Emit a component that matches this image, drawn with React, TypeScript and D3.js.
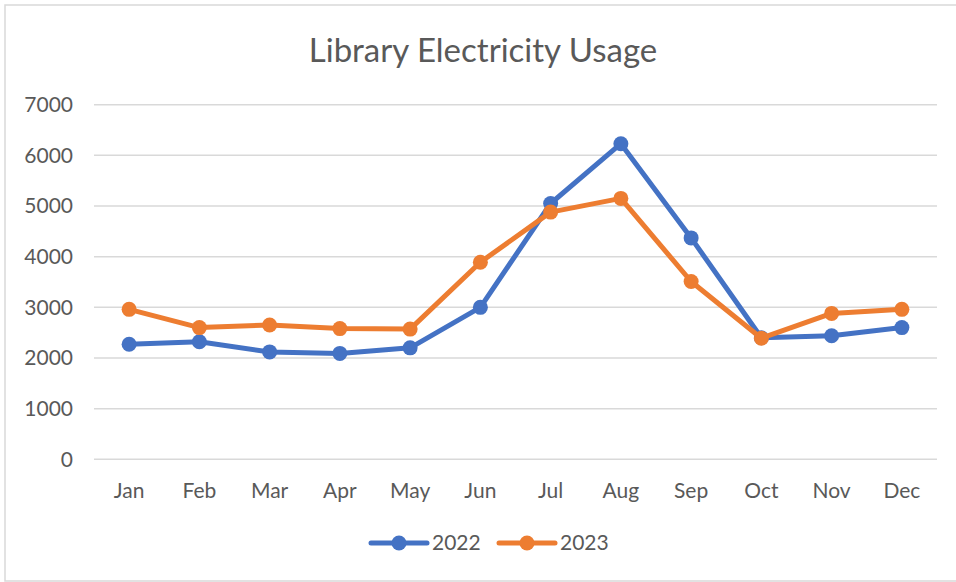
import React from 'react';
import * as d3 from 'd3';

const months = ['Jan', 'Feb', 'Mar', 'Apr', 'May', 'Jun', 'Jul', 'Aug', 'Sep', 'Oct', 'Nov', 'Dec'];
const usage2022 = [2270, 2320, 2120, 2090, 2200, 3000, 5050, 6230, 4370, 2400, 2440, 2600];
const usage2023 = [2960, 2600, 2650, 2580, 2570, 3890, 4880, 5150, 3510, 2390, 2880, 2960];
const yTicks = [0, 1000, 2000, 3000, 4000, 5000, 6000, 7000];

const series = [
  { name: '2022', values: usage2022, color: '#4472C4' },
  { name: '2023', values: usage2023, color: '#ED7D31' },
];

const width = 956;
const height = 582;
const font = 'Lato, "Open Sans", sans-serif';
const textColor = '#595959';
const labelSize = 21;

export default function App() {
  const x = d3.scaleBand<string>().domain(months).range([94, 937]);
  const y = d3.scaleLinear().domain([0, 7000]).range([459.3, 104.7]);
  const cx = (i: number) => (x(months[i]) ?? 0) + x.bandwidth() / 2;

  const line = d3.line<number>()
    .x((_, i) => cx(i))
    .y((d) => y(d));

  return (
    <svg
      width={width}
      height={height}
      style={{ position: 'absolute', left: 0, top: 0, background: '#fff' }}
    >
      {/* chart border */}
      <rect x={5} y={5} width={960} height={576} fill="#fff" stroke="#D9D9D9" strokeWidth={1.5} />

      <text x={483} y={62} textAnchor="middle" fontFamily={font} fontSize={33} fill={textColor}>
        Library Electricity Usage
      </text>

      {/* gridlines + y labels */}
      {yTicks.map((t) => (
        <g key={t}>
          <line x1={94} x2={937} y1={y(t)} y2={y(t)} stroke="#D9D9D9" strokeWidth={1.5} />
          <text x={73} y={y(t)} dy="0.35em" textAnchor="end" fontFamily={font} fontSize={labelSize} fill={textColor}>
            {t}
          </text>
        </g>
      ))}

      {/* x labels */}
      {months.map((m, i) => (
        <text
          key={m}
          x={cx(i)}
          y={491}
          dy="0.35em"
          textAnchor="middle"
          fontFamily={font}
          fontSize={labelSize}
          fill={textColor}
        >
          {m}
        </text>
      ))}

      {/* series */}
      {series.map((s) => (
        <g key={s.name}>
          <path d={line(s.values) ?? ''} fill="none" stroke={s.color} strokeWidth={5} strokeLinejoin="round" strokeLinecap="round" />
          {s.values.map((v, i) => (
            <circle key={i} cx={cx(i)} cy={y(v)} r={7.5} fill={s.color} />
          ))}
        </g>
      ))}

      {/* legend */}
      {series.map((s, i) => {
        const lx = 371 + i * 128;
        return (
          <g key={s.name}>
            <line x1={lx} x2={lx + 56} y1={543} y2={543} stroke={s.color} strokeWidth={5} strokeLinecap="round" />
            <circle cx={lx + 28} cy={543} r={7.5} fill={s.color} />
            <text x={lx + 61} y={543} dy="0.35em" fontFamily={font} fontSize={labelSize} fill={textColor}>
              {s.name}
            </text>
          </g>
        );
      })}
    </svg>
  );
}
